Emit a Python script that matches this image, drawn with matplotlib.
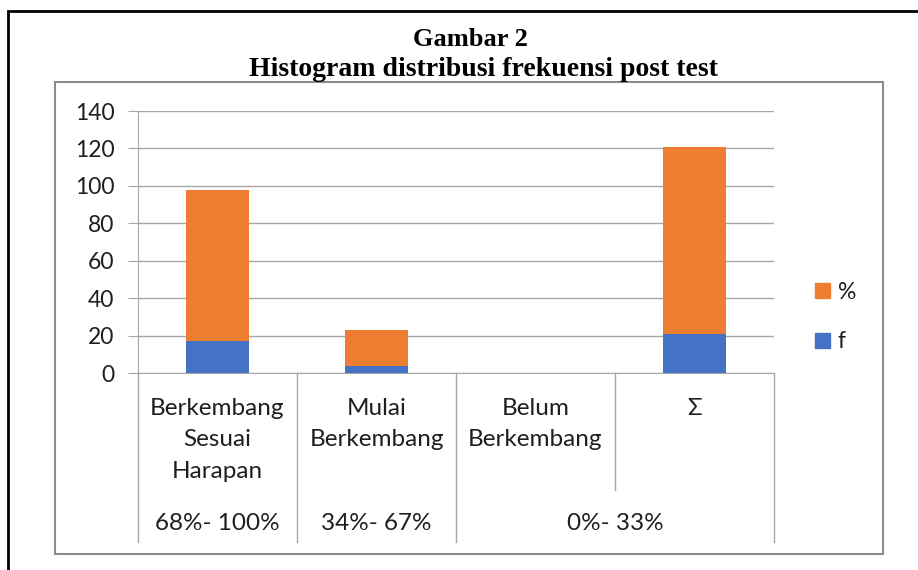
import matplotlib
matplotlib.use("Agg")
import matplotlib.pyplot as plt
from matplotlib.patches import Rectangle, Patch
from matplotlib.transforms import blended_transform_factory

# data
categories = ["Berkembang\nSesuai\nHarapan", "Mulai\nBerkembang", "Belum\nBerkembang", "Σ"]
f_values = [17, 4, 0, 21]
pct_values = [81, 19, 0, 100]
ranges = ["68%- 100%", "34%- 67%", "0%- 33%"]
range_pos = [0, 1, 2.5]
y_ticks = [0, 20, 40, 60, 80, 100, 120, 140]

BLUE = "#4472C4"
ORANGE = "#ED7D31"
GRID = "#A6A6A6"
TXT = "#1F1F1F"
W, H = 918, 570

plt.rcParams['font.family'] = ['Lato', 'DejaVu Sans']

fig = plt.figure(figsize=(W / 100, H / 100), dpi=100)

# outer black frame (runs off the right and bottom edge)
fig.add_artist(Rectangle((8 / W, -0.1), 1.2, 1.1 - 11 / H, transform=fig.transFigure,
                         fill=False, ec="black", lw=2))
# chart area box
fig.add_artist(Rectangle((55 / W, 1 - 554 / H), (883 - 55) / W, (554 - 82) / H,
                         transform=fig.transFigure, fill=False, ec="#8C8C8C", lw=1.5))

fig.text(470 / W, 1 - 40 / H, "Gambar 2", ha="center", va="center",
         family="Liberation Serif", weight="bold", fontsize=19)
fig.text(483 / W, 1 - 69 / H, "Histogram distribusi frekuensi post test", ha="center",
         va="center", family="Liberation Serif", weight="bold", fontsize=20)

ax = fig.add_axes([138 / W, 1 - 373 / H, (774 - 138) / W, (373 - 111) / H])
x = range(len(categories))
ax.bar(x, f_values, width=0.39, color=BLUE, label="f", zorder=3)
ax.bar(x, pct_values, width=0.39, bottom=f_values, color=ORANGE, label="%", zorder=3)

ax.set_xlim(-0.5, 3.5)
ax.set_ylim(0, 140)
ax.set_yticks(y_ticks)
ax.yaxis.grid(True, color=GRID, lw=1)
ax.set_axisbelow(True)
ax.set_xticks([])
ax.tick_params(axis="y", length=7, color=GRID, labelsize=16.5, labelcolor=TXT, pad=10)
for s in ["top", "right"]:
    ax.spines[s].set_visible(False)
for s in ["left", "bottom"]:
    ax.spines[s].set_color(GRID)

# multi level category axis below the plot
tr = blended_transform_factory(ax.transData, ax.transAxes)
for b in [-0.5, 0.5, 1.5, 3.5]:
    ax.plot([b, b], [0, -0.645], color=GRID, lw=1, transform=tr, clip_on=False)
ax.plot([2.5, 2.5], [0, -0.447], color=GRID, lw=1, transform=tr, clip_on=False)
for i, c in enumerate(categories):
    ax.text(i, -0.095, c, transform=tr, ha="center", va="top", fontsize=17.5,
            color=TXT, linespacing=1.62)
for p, r in zip(range_pos, ranges):
    ax.text(p, -0.573, r, transform=tr, ha="center", va="center", fontsize=17.5, color=TXT)

handles = [Patch(color=ORANGE, label="%"), Patch(color=BLUE, label="f")]
fig.legend(handles=handles, loc="center left", bbox_to_anchor=(815 / W, 1 - 317 / H),
           frameon=False, fontsize=16.5, handlelength=0.65, handleheight=0.65,
           handletextpad=0.35, labelspacing=1.25, borderpad=0, borderaxespad=0,
           labelcolor=TXT)

fig.savefig("out.png", dpi=100)
